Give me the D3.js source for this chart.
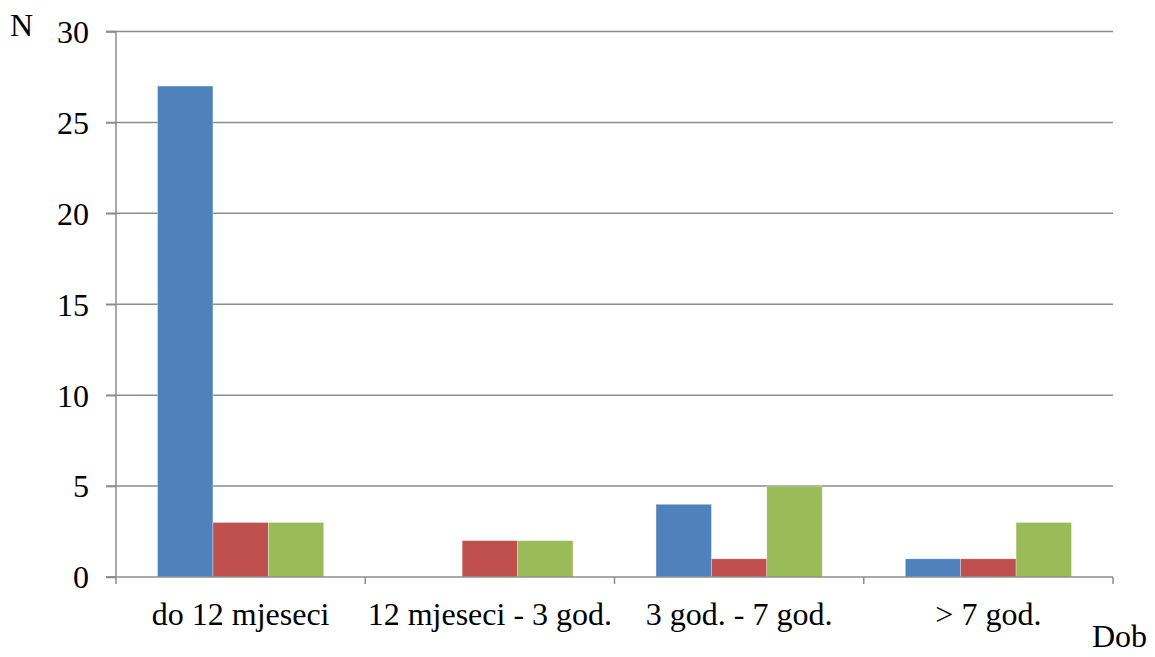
<!DOCTYPE html>
<html><head><meta charset="utf-8">
<script src="https://cdn.jsdelivr.net/npm/d3@7"></script>
<style>body{margin:0;background:#fff}svg{display:block}</style>
</head><body>
<script>
const categories = ["do 12 mjeseci", "12 mjeseci - 3 god.", "3 god. - 7 god.", "> 7 god."];
const seriesA = [27, 0, 4, 1];
const seriesB = [3, 2, 1, 1];
const seriesC = [3, 2, 5, 3];
const yTicks = [0, 5, 10, 15, 20, 25, 30];
const colors = ["#4F81BD", "#C0504D", "#9BBB59"];
const FONT = "'Liberation Serif', 'Times New Roman', Times, serif";
const FS = "32px";

const W = 1155, H = 657;
const m = {left: 116, right: 1113, top: 31.5, bottom: 577};
const svg = d3.select("body").append("svg").attr("width", W).attr("height", H);

const x = d3.scaleBand().domain(categories).range([m.left, m.right]).paddingInner(0).paddingOuter(0);
const y = d3.scaleLinear().domain([0, 30]).range([m.bottom, m.top]);
const series = [seriesA, seriesB, seriesC];
const barW = x.bandwidth() / (3 + 1.5);
const off = barW * 0.75;

// gridlines
svg.append("g").selectAll("line").data(yTicks.filter(d => d > 0)).join("line")
  .attr("x1", m.left - 10).attr("x2", m.right)
  .attr("y1", d => y(d)).attr("y2", d => y(d))
  .attr("stroke", "#8c8c8c").attr("stroke-width", 1.5);

// bars
series.forEach((s, si) => {
  svg.append("g").selectAll("rect").data(s.map((v, i) => ({v, c: categories[i]}))).join("rect")
    .attr("x", d => x(d.c) + off + si * barW)
    .attr("width", barW)
    .attr("y", d => y(d.v))
    .attr("height", d => y(0) - y(d.v))
    .attr("fill", colors[si])
    .attr("stroke", "#ffffff").attr("stroke-opacity", 0.5).attr("stroke-width", 0.6);
});

// y axis
const yAxis = d3.axisLeft(y).tickValues(yTicks).tickSize(10).tickPadding(17);
const ya = svg.append("g").attr("transform", `translate(${m.left},0)`).call(yAxis);
ya.attr("font-family", null).attr("font-size", null);
ya.select(".domain").attr("stroke", "#8c8c8c").attr("stroke-width", 1.5).attr("d", `M-10,${m.top}H0V${m.bottom}H-10`);
ya.selectAll(".tick line").attr("stroke", "#8c8c8c").attr("stroke-width", 1.5);
ya.selectAll(".tick text").style("font-family", FONT).style("font-size", FS).attr("fill", "#000").attr("dy", "0.34em");

// x axis
const bounds = categories.map(c => x(c)).concat([m.right]);
svg.append("line").attr("x1", m.left - 10).attr("x2", m.right).attr("y1", m.bottom).attr("y2", m.bottom)
  .attr("stroke", "#8c8c8c").attr("stroke-width", 1.5);
svg.append("g").selectAll("line").data(bounds).join("line")
  .attr("x1", d => d).attr("x2", d => d).attr("y1", m.bottom).attr("y2", m.bottom + 7)
  .attr("stroke", "#8c8c8c").attr("stroke-width", 1.5);
svg.append("g").selectAll("text").data(categories).join("text")
  .attr("x", d => x(d) + x.bandwidth() / 2).attr("y", 625)
  .attr("text-anchor", "middle").style("font-family", FONT).style("font-size", FS).text(d => d);

svg.append("text").attr("x", 10).attr("y", 36).style("font-family", FONT).style("font-size", FS).text("N");
svg.append("text").attr("x", 1147).attr("y", 647).attr("text-anchor", "end").style("font-family", FONT).style("font-size", FS).text("Dob");
</script>
</body></html>
